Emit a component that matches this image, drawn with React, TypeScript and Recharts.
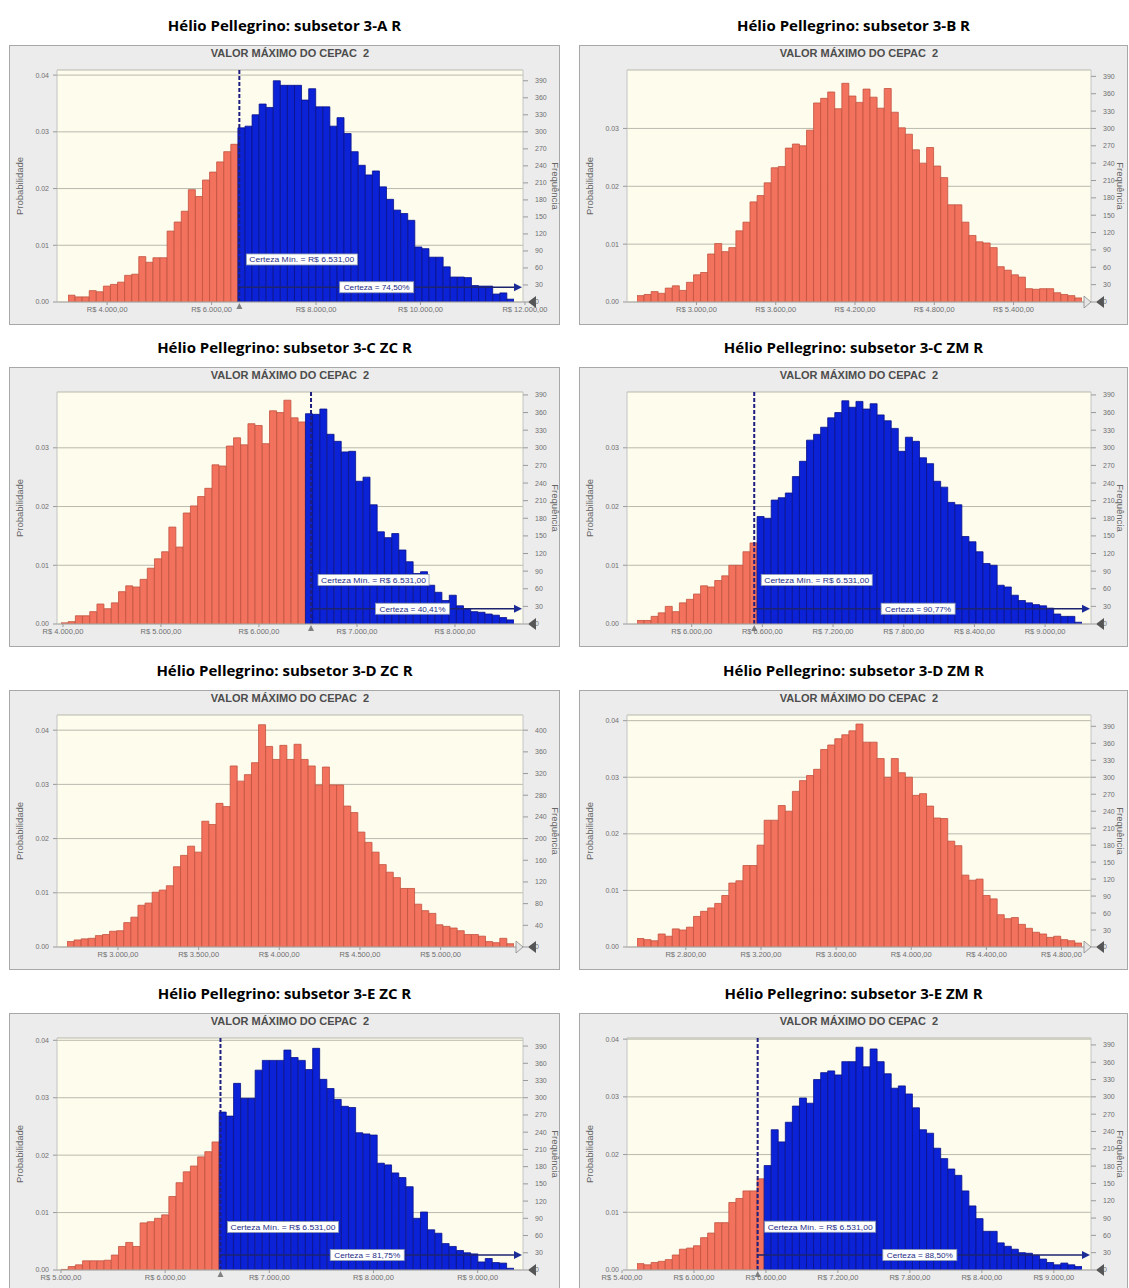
import React from "react";
import { Bar, BarChart, CartesianGrid, Cell, ReferenceDot, ReferenceLine, XAxis, YAxis } from "recharts";

const CERTEZA_MIN = 6531;
const TRIALS = 10000;

const PROB_TICKS_3 = [0, 0.01, 0.02, 0.03];
const PROB_TICKS_4 = [0, 0.01, 0.02, 0.03, 0.04];
const FREQ_TICKS_30 = [0, 30, 60, 90, 120, 150, 180, 210, 240, 270, 300, 330, 360, 390];
const FREQ_TICKS_40 = [0, 40, 80, 120, 160, 200, 240, 280, 320, 360, 400];

// frequencies per bin (10.000 trials)
const COUNTS_3A = [
  12, 9, 9, 20, 18, 28, 31, 35, 47, 49, 80, 70, 78, 78, 125, 141, 160, 198, 186, 215, 229, 247, 265, 278,
  307, 310, 330, 349, 343, 390, 382, 382, 382, 356, 376, 344, 344, 310, 325, 297, 265, 241, 224, 231, 203,
  181, 162, 156, 144, 97, 94, 79, 79, 62, 44, 44, 43, 29, 28, 28, 14, 16, 5,
];
const ORANGE_3A = 24;
const XTICKS_3A = [4000, 6000, 8000, 10000, 12000];

const COUNTS_3B = [
  11, 13, 18, 15, 24, 28, 20, 34, 47, 51, 83, 101, 87, 94, 123, 138, 173, 184, 206, 232, 234, 266, 273, 270,
  297, 344, 352, 363, 334, 378, 356, 345, 368, 354, 335, 369, 328, 301, 290, 263, 240, 267, 235, 215, 168,
  168, 138, 115, 104, 102, 94, 61, 55, 47, 43, 23, 22, 23, 23, 16, 13, 11, 7,
];
const XTICKS_3B = [3000, 3600, 4200, 4800, 5400];

const COUNTS_3C_ZC = [
  2, 4, 14, 14, 21, 34, 26, 36, 55, 65, 63, 76, 95, 111, 123, 165, 131, 189, 201, 217, 231, 271, 269, 303,
  317, 305, 341, 338, 307, 363, 360, 381, 351, 344,
  358, 357, 366, 323, 311, 293, 294, 243, 250, 203, 157, 147, 154, 126, 106, 86, 89, 66, 54, 40, 49, 31, 26,
  21, 20, 17, 15, 11, 7,
];
const ORANGE_3C_ZC = 34;
const XTICKS_3C_ZC = [4000, 5000, 6000, 7000, 8000];

const COUNTS_3C_ZM = [
  6, 6, 13, 19, 30, 21, 36, 42, 51, 65, 63, 74, 82, 100, 100, 123, 138,
  183, 180, 211, 215, 223, 251, 277, 313, 323, 335, 351, 360, 380, 369, 379, 366, 375, 356, 346, 333, 294,
  318, 311, 283, 273, 243, 233, 207, 203, 149, 140, 123, 103, 100, 66, 63, 49, 40, 36, 33, 31, 27, 17, 13,
  13, 3,
];
const ORANGE_3C_ZM = 17;
const XTICKS_3C_ZM = [6000, 6600, 7200, 7800, 8400, 9000];

const COUNTS_3D_ZC = [
  10, 13, 15, 16, 21, 23, 29, 30, 45, 55, 77, 81, 101, 105, 113, 148, 169, 186, 175, 232, 226, 265, 259, 334,
  306, 318, 340, 410, 370, 346, 372, 346, 374, 346, 334, 299, 332, 299, 299, 260, 248, 212, 193, 175, 152,
  138, 128, 108, 108, 79, 67, 62, 41, 38, 35, 30, 23, 23, 20, 10, 8, 16, 6,
];
const XTICKS_3D_ZC = [3000, 3500, 4000, 4500, 5000];

const COUNTS_3D_ZM = [
  15, 13, 11, 23, 19, 32, 30, 35, 54, 63, 69, 77, 91, 113, 117, 144, 144, 180, 224, 224, 250, 240, 275, 294,
  303, 314, 349, 357, 368, 375, 382, 394, 362, 362, 333, 300, 333, 308, 300, 268, 271, 249, 228, 227, 187,
  179, 127, 118, 120, 91, 85, 57, 50, 52, 40, 33, 26, 23, 17, 19, 13, 11, 7,
];
const XTICKS_3D_ZM = [2800, 3200, 3600, 4000, 4400, 4800];

const COUNTS_3E_ZC = [
  1, 6, 9, 16, 16, 16, 17, 26, 41, 48, 41, 82, 84, 90, 96, 128, 152, 171, 181, 197, 206, 223,
  275, 268, 325, 299, 299, 348, 365, 365, 365, 383, 370, 365, 349, 386, 332, 316, 297, 285, 283, 239, 237,
  235, 186, 183, 169, 161, 145, 90, 101, 70, 64, 46, 41, 34, 30, 28, 14, 20, 13, 12, 3,
];
const ORANGE_3E_ZC = 22;
const XTICKS_3E_ZC = [5000, 6000, 7000, 8000, 9000];

const COUNTS_3E_ZM = [
  11, 9, 13, 15, 18, 26, 36, 38, 42, 56, 64, 82, 82, 117, 124, 137, 137, 158,
  181, 243, 222, 256, 284, 298, 289, 330, 342, 345, 338, 361, 361, 386, 352, 383, 361, 340, 315, 319, 305,
  281, 243, 237, 211, 193, 175, 164, 137, 111, 89, 67, 67, 47, 41, 36, 30, 29, 25, 19, 13, 9, 12, 9, 6,
];
const ORANGE_3E_ZM = 18;
const XTICKS_3E_ZM = [5400, 6000, 6600, 7200, 7800, 8400, 9000];

const ORANGE = "#f2725e";
const ORANGE_EDGE = "#c2533f";
const BLUE = "#0c22d6";
const BLUE_EDGE = "#08128a";
const AXIS_FONT = "'Liberation Sans', Arial, sans-serif";

type PanelCfg = {
  title: string;
  counts: number[];
  orange: number;
  lo: number;
  hi: number;
  padL: number;
  padR: number;
  xTicks: number[];
  yMax: number;
  yTicks: number[];
  freqTicks: number[];
  certeza?: string;
};

const PANELS: PanelCfg[] = [
  { title: "Hélio Pellegrino: subsetor 3-A R", counts: COUNTS_3A, orange: ORANGE_3A, lo: 3250, hi: 11790, padL: 11, padR: 9, xTicks: XTICKS_3A, yMax: 0.0409, yTicks: PROB_TICKS_4, freqTicks: FREQ_TICKS_30, certeza: "Certeza = 74,50%" },
  { title: "Hélio Pellegrino: subsetor 3-B R", counts: COUNTS_3B, orange: COUNTS_3B.length, lo: 2550, hi: 5918, padL: 10, padR: 9, xTicks: XTICKS_3B, yMax: 0.0401, yTicks: PROB_TICKS_3, freqTicks: FREQ_TICKS_30 },
  { title: "Hélio Pellegrino: subsetor 3-C ZC R", counts: COUNTS_3C_ZC, orange: ORANGE_3C_ZC, lo: 3980, hi: 8602, padL: 4, padR: 9, xTicks: XTICKS_3C_ZC, yMax: 0.0395, yTicks: PROB_TICKS_3, freqTicks: FREQ_TICKS_30, certeza: "Certeza = 40,41%" },
  { title: "Hélio Pellegrino: subsetor 3-C ZM R", counts: COUNTS_3C_ZM, orange: ORANGE_3C_ZM, lo: 5536, hi: 9313, padL: 10, padR: 9, xTicks: XTICKS_3C_ZM, yMax: 0.0395, yTicks: PROB_TICKS_3, freqTicks: FREQ_TICKS_30, certeza: "Certeza = 90,77%" },
  { title: "Hélio Pellegrino: subsetor 3-D ZC R", counts: COUNTS_3D_ZC, orange: COUNTS_3D_ZC.length, lo: 2684, hi: 5455, padL: 10, padR: 9, xTicks: XTICKS_3D_ZC, yMax: 0.0428, yTicks: PROB_TICKS_4, freqTicks: FREQ_TICKS_40 },
  { title: "Hélio Pellegrino: subsetor 3-D ZM R", counts: COUNTS_3D_ZM, orange: COUNTS_3D_ZM.length, lo: 2540, hi: 4909, padL: 10, padR: 9, xTicks: XTICKS_3D_ZM, yMax: 0.041, yTicks: PROB_TICKS_4, freqTicks: FREQ_TICKS_30 },
  { title: "Hélio Pellegrino: subsetor 3-E ZC R", counts: COUNTS_3E_ZC, orange: ORANGE_3E_ZC, lo: 5000, hi: 9349, padL: 4, padR: 9, xTicks: XTICKS_3E_ZC, yMax: 0.0404, yTicks: PROB_TICKS_4, freqTicks: FREQ_TICKS_30, certeza: "Certeza = 81,75%" },
  { title: "Hélio Pellegrino: subsetor 3-E ZM R", counts: COUNTS_3E_ZM, orange: ORANGE_3E_ZM, lo: 5525, hi: 9235, padL: 10, padR: 9, xTicks: XTICKS_3E_ZM, yMax: 0.0402, yTicks: PROB_TICKS_4, freqTicks: FREQ_TICKS_30, certeza: "Certeza = 88,50%" },
];

const COL_X = [9, 579];
const COL_W = [551, 549];
const ROW_Y = [45, 367, 690, 1013];
const BOX_H = 280;

const brl = (v: number) => {
  const th = Math.floor(v / 1000);
  const rest = String(Math.round(v % 1000)).padStart(3, "0");
  return `R$ ${th}.${rest},00`;
};

function MinLabel(props: any) {
  const { cx, cy } = props;
  if (cx == null || cy == null) return <g />;
  return (
    <g>
      <rect x={cx + 7} y={cy - 5.5} width={111} height={11} fill="#ffffff" stroke="#8c9bb0" strokeWidth={0.8} />
      <text x={cx + 10} y={cy + 3} fontSize={7.5} fill="#1c2c86" fontFamily={AXIS_FONT} textLength={105} lengthAdjust="spacingAndGlyphs">
        Certeza Mín. = R$ 6.531,00
      </text>
    </g>
  );
}

function CertezaLabel(props: any) {
  const { cx, cy, text } = props;
  if (cx == null || cy == null) return <g />;
  return (
    <g>
      <rect x={cx - 37} y={cy - 5.5} width={74} height={11} fill="#ffffff" stroke="#8c9bb0" strokeWidth={0.8} />
      <text x={cx} y={cy + 3} fontSize={7.5} fill="#1c2c86" textAnchor="middle" fontFamily={AXIS_FONT} textLength={66} lengthAdjust="spacingAndGlyphs">
        {text}
      </text>
    </g>
  );
}

function ArrowHead(props: any) {
  const { cx, cy } = props;
  if (cx == null || cy == null) return <g />;
  return <polygon points={`${cx},${cy - 4} ${cx + 8},${cy} ${cx},${cy + 4}`} fill="#1c2c96" />;
}

function EndMarks(props: any) {
  const { cx, cy, both } = props;
  if (cx == null || cy == null) return <g />;
  return (
    <g>
      {both ? (
        <polygon points={`${cx + 2},${cy - 6} ${cx + 9},${cy} ${cx + 2},${cy + 6}`} fill="#e6e6e6" stroke="#8a8a8a" strokeWidth={0.8} />
      ) : null}
      <polygon points={`${cx + 22},${cy - 6} ${cx + 14},${cy} ${cx + 22},${cy + 6}`} fill="#555555" />
    </g>
  );
}

function SliderMark(props: any) {
  const { cx, cy } = props;
  if (cx == null || cy == null) return <g />;
  return <polygon points={`${cx - 3},${cy + 7} ${cx},${cy + 1} ${cx + 3},${cy + 7}`} fill="#808080" />;
}

function Panel({ cfg, left, top, width, rightCol }: { cfg: PanelCfg; left: number; top: number; width: number; rightCol: boolean }) {
  const n = cfg.counts.length;
  const step = (cfg.hi - cfg.lo) / n;
  // bins are centred on their midpoint between the read-off edges lo and hi
  const data = cfg.counts.map((c, i) => ({ x: cfg.lo + step * (i + 0.5), p: c / TRIALS }));
  const pad = { left: cfg.padL, right: cfg.padR };
  const plotW = width - 48 - 37;
  const hasCut = !!cfg.certeza;
  return (
    <>
      <div
        style={{
          position: "absolute",
          left,
          top: top - 32,
          width,
          height: 24,
          lineHeight: "24px",
          textAlign: "center",
          fontFamily: "'Open Sans', sans-serif",
          fontWeight: 700,
          fontSize: 15,
          color: "#000",
        }}
      >
        {cfg.title}
      </div>
      <div
        style={{
          position: "absolute",
          left,
          top,
          width,
          height: BOX_H,
          background: "#ececec",
          boxShadow: "inset 0 0 0 1px #a8a8a8",
        }}
      >
        <div
          style={{
            position: "absolute",
            left: 48,
            top: 2,
            width: plotW,
            textAlign: "center",
            fontFamily: AXIS_FONT,
            fontWeight: 700,
            fontSize: 11,
            color: "#4d4d4d",
            whiteSpace: "pre",
          }}
        >
          {"VALOR MÁXIMO DO CEPAC  2"}
        </div>
        <BarChart
          width={width}
          height={BOX_H}
          data={data}
          margin={{ top: 25, right: 0, bottom: 0, left: 0 }}
          barCategoryGap={0}
          barGap={0}
          style={{ position: "absolute", left: 0, top: 0 }}
        >
          <CartesianGrid vertical={false} fill="#fdfced" stroke="#b9b9ad" yAxisId="p" />
          <XAxis
            dataKey="x"
            type="number"
            domain={[cfg.lo, cfg.hi]}
            allowDataOverflow
            ticks={cfg.xTicks}
            interval={0}
            tickFormatter={brl}
            padding={pad}
            height={23}
            tickSize={3}
            tickMargin={2}
            tick={{ fontSize: 7.5, fill: "#707070", fontFamily: AXIS_FONT }}
            tickLine={{ stroke: "#9a9a9a" }}
            axisLine={{ stroke: "#b0b0b0" }}
          />
          <YAxis
            yAxisId="p"
            orientation="left"
            width={48}
            domain={[0, cfg.yMax]}
            allowDataOverflow
            ticks={cfg.yTicks}
            interval={0}
            tickFormatter={(v: number) => v.toFixed(2)}
            tickSize={4}
            tickMargin={4}
            tick={{ fontSize: 7, fill: "#707070", fontFamily: AXIS_FONT }}
            tickLine={{ stroke: "#9a9a9a" }}
            axisLine={{ stroke: "#c4c4c4" }}
            label={{
              value: "Probabilidade",
              angle: -90,
              position: "insideLeft",
              offset: 11,
              style: { textAnchor: "middle", fontSize: 9.5, fill: "#666", fontFamily: AXIS_FONT },
            }}
          />
          <YAxis
            yAxisId="f"
            orientation="right"
            width={37}
            domain={[0, cfg.yMax * TRIALS]}
            allowDataOverflow
            ticks={cfg.freqTicks}
            interval={0}
            tickSize={5}
            tickMargin={7}
            tick={{ fontSize: 7, fill: "#707070", fontFamily: AXIS_FONT }}
            tickLine={{ stroke: "#9a9a9a" }}
            axisLine={{ stroke: "#c4c4c4" }}
            label={{
              value: "Frequência",
              angle: 90,
              position: "insideRight",
              offset: rightCol ? 8 : 5,
              style: { textAnchor: "middle", fontSize: 9.5, fill: "#666", fontFamily: AXIS_FONT },
            }}
          />
          <Bar yAxisId="p" dataKey="p" isAnimationActive={false}>
            {data.map((_, i) => (
              <Cell
                key={`cell-${i}`}
                fill={i < cfg.orange ? ORANGE : BLUE}
                stroke={i < cfg.orange ? ORANGE_EDGE : BLUE_EDGE}
                strokeWidth={0.8}
              />
            ))}
          </Bar>
          {hasCut ? (
            <ReferenceLine yAxisId="p" x={CERTEZA_MIN} stroke="#1e1e80" strokeWidth={2} strokeDasharray="4 2" />
          ) : null}
          {hasCut ? (
            <ReferenceLine
              yAxisId="p"
              segment={[
                { x: CERTEZA_MIN, y: 0.0026 },
                { x: cfg.hi, y: 0.0026 },
              ]}
              stroke="#1c2470"
              strokeWidth={1.5}
              ifOverflow="visible"
            />
          ) : null}
          {hasCut ? (
            <ReferenceDot yAxisId="p" x={cfg.hi} y={0.0026} r={0} ifOverflow="visible" shape={ArrowHead} />
          ) : null}
          {hasCut ? (
            <ReferenceDot yAxisId="p" x={CERTEZA_MIN} y={0.0075} r={0} ifOverflow="visible" shape={MinLabel} />
          ) : null}
          {hasCut ? (
            <ReferenceDot
              yAxisId="p"
              x={(CERTEZA_MIN + cfg.hi) / 2}
              y={0.0026}
              r={0}
              ifOverflow="visible"
              shape={(p: any) => <CertezaLabel {...p} text={cfg.certeza} />}
            />
          ) : null}
          {hasCut ? (
            <ReferenceDot yAxisId="p" x={CERTEZA_MIN} y={0} r={0} ifOverflow="visible" shape={SliderMark} />
          ) : null}
          <ReferenceDot
            yAxisId="p"
            x={cfg.hi}
            y={0}
            r={0}
            ifOverflow="visible"
            shape={(p: any) => <EndMarks {...p} both={!hasCut} />}
          />
        </BarChart>
      </div>
    </>
  );
}

export default function App() {
  return (
    <div
      style={{
        position: "absolute",
        left: 0,
        top: 0,
        width: 1129,
        height: 1288,
        background: "#ffffff",
        overflow: "hidden",
      }}
    >
      {PANELS.map((cfg, i) => (
        <Panel
          key={cfg.title}
          cfg={cfg}
          left={COL_X[i % 2]}
          top={ROW_Y[Math.floor(i / 2)]}
          width={COL_W[i % 2]}
          rightCol={i % 2 === 1}
        />
      ))}
    </div>
  );
}
